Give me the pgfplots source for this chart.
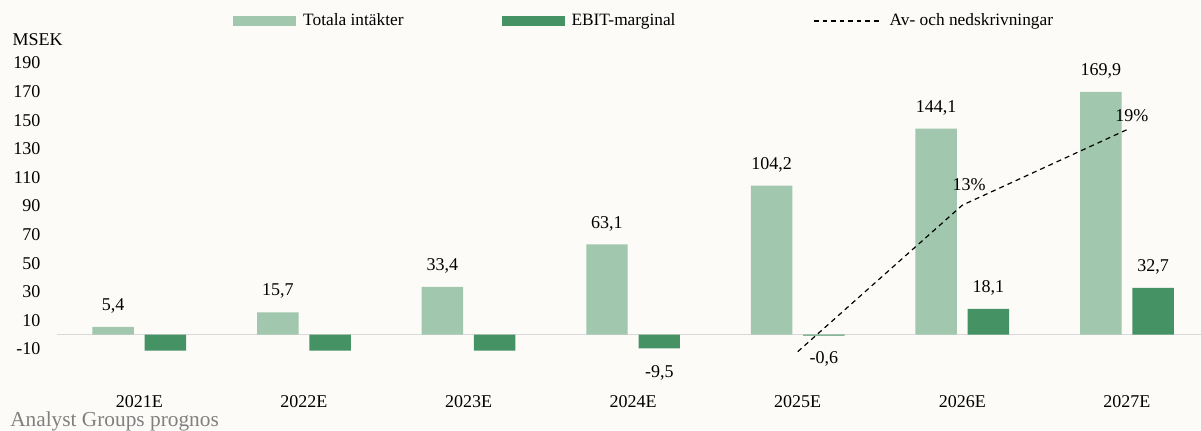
\documentclass[border=0pt]{standalone}
\usepackage{fontspec}
\setmainfont{Liberation Serif}
\usepackage{pgfplots}
\usepackage{pgfplotstable}
\pgfplotsset{compat=1.18}
\definecolor{bg}{HTML}{FCFBF7}
\definecolor{lightg}{HTML}{A1C7AE}
\definecolor{darkg}{HTML}{459265}
\definecolor{zeroline}{HTML}{D9D9D9}
\definecolor{srcgray}{HTML}{808080}

\pgfplotstableread{
x y lab dy
0 5.4 5,4 15.75
1 15.7 15,7 15.75
2 33.4 33,4 15.75
3 63.1 63,1 15.75
4 104.2 104,2 15.75
5 144.1 144,1 15.75
6 169.9 169,9 15.75
}\intakter

\pgfplotstableread{
x y
0 -11.2
1 -11.2
2 -11.2
}\ebitA

\pgfplotstableread{
x y lab dy
3 -9.5 -9,5 -18.5
4 -0.6 -0,6 -17.8
5 18.1 18,1 15.75
6 32.7 32,7 15.75
}\ebitB

\pgfplotstableread{
x y
4 -0.6
5 12.6
6 19.4
}\marg

\pgfplotstableread{
x y lab dx dy
5 12.6 13\% 5 15.5
6 19.4 19\% 3.75 10.5
}\margLab

\pgfplotsset{
  barlegend/.style={legend image code/.code={\fill[##1] (0pt,-3.4pt) rectangle (47.25pt,3.4pt);}},
  dashlegend/.style={legend image code/.code={\draw[##1] (0pt,0pt) -- (51pt,0pt);}},
  common/.style={scale only axis, width=858pt, height=235.95pt,
    at={(42.75pt,44.66pt)}, anchor=south west, xmin=-0.5, xmax=6.45, clip=false},
  lbl/.style={nodes near coords, point meta=explicit symbolic,
    visualization depends on={\thisrow{dy} \as \dy},
    every node near coord/.append style={anchor=center, inner sep=0pt, xshift=#1, yshift=\dy, text=black}},
}

\begin{document}
\fontsize{13.5}{16}\selectfont
\begin{tikzpicture}[font=\fontsize{13.5}{16}\selectfont]
\fill[bg] (0,0) rectangle (900.75pt,322.5pt);
\useasboundingbox (0,0) rectangle (900.75pt,322.5pt);
\begin{axis}[common,
  ymin=-25, ymax=195,
  ytick={-10,10,...,190},
  xtick={0,...,6},
  xticklabels={2021E,2022E,2023E,2024E,2025E,2026E,2027E},
  axis line style={draw=none},
  tick style={draw=none},
  major tick length=0pt,
  /pgf/number format/assume math mode=true,
  yticklabel style={anchor=east, inner sep=0pt, xshift=-12.35pt},
  xticklabel style={anchor=north, inner sep=0pt, yshift=-18.9pt},
  extra y ticks={0},
  extra y tick labels={},
  extra y tick style={grid=major, major grid style={zeroline, line width=1.1pt}},
  legend columns=3,
  legend cell align=left,
  legend style={at={(0.1538,1.1108)}, anchor=west, draw=none, fill=none,
    inner sep=0pt, nodes={inner sep=0pt},
    font=\fontsize{13}{15}\selectfont,
    /tikz/every even column/.append style={column sep=73.5pt},
    /tikz/every odd column/.append style={column sep=5.25pt}},
]
\addplot[ybar, bar width=31.1pt, bar shift=-19.6pt, fill=lightg, draw=none, barlegend, lbl=-19.6pt]
  table[x=x, y=y, meta=lab]{\intakter};
\addlegendentry{Totala intäkter}
\addplot[ybar, bar width=31.1pt, bar shift=19.6pt, fill=darkg, draw=none, barlegend]
  table[x=x, y=y]{\ebitA};
\addlegendentry{EBIT-marginal\rule{30pt}{0pt}}
\addplot[ybar, bar width=31.1pt, bar shift=19.6pt, fill=darkg, draw=none, forget plot, lbl=19.6pt]
  table[x=x, y=y, meta=lab]{\ebitB};
\addlegendimage{black, line width=0.9pt, dash pattern=on 3.5pt off 2.9pt, dashlegend}
\addlegendentry{Av- och nedskrivningar}
\node[anchor=west, inner sep=0pt] at (rel axis cs:-0.0391,1.0504) {MSEK};
\end{axis}
\begin{axis}[common, ymin=-2.293, ymax=26.05, hide axis]
\addplot[black, line width=0.9pt, dash pattern=on 3.75pt off 3pt] table[x=x, y=y]{\marg};
\addplot[draw=none, mark=none, nodes near coords, point meta=explicit symbolic,
  visualization depends on={\thisrow{dx} \as \dx},
  visualization depends on={\thisrow{dy} \as \dy},
  every node near coord/.append style={anchor=center, inner sep=0pt, xshift=\dx, yshift=\dy, text=black}]
  table[x=x, y=y, meta=lab]{\margLab};
\end{axis}
\node[anchor=base west, inner sep=0pt, text=srcgray, font=\fontsize{16}{18}\selectfont] at (7.5pt,2.5pt) {Analyst Groups prognos};
\end{tikzpicture}
\end{document}
